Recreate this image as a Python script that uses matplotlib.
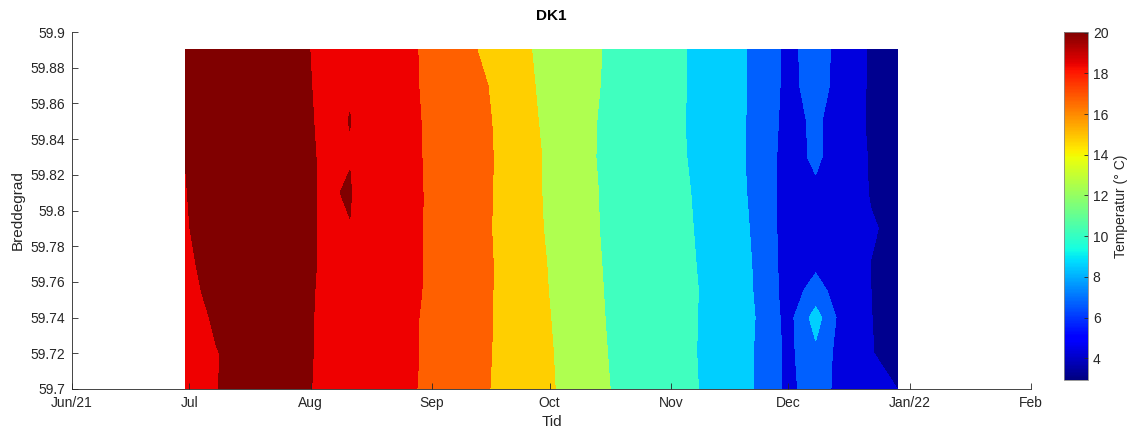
import numpy as np
import pandas as pd
import matplotlib
matplotlib.use('Agg')
import matplotlib.pyplot as plt
import matplotlib.dates as mdates
from matplotlib.colors import Normalize
from matplotlib.cm import ScalarMappable

plt.rcParams['font.family'] = ['Liberation Sans', 'DejaVu Sans']

# sample dates (columns) and latitudes (rows)
dates = ['2021-06-30', '2021-07-08', '2021-07-20', '2021-08-04', '2021-08-11', '2021-08-22',
         '2021-09-07', '2021-09-22', '2021-10-06', '2021-10-20', '2021-11-03', '2021-11-15',
         '2021-11-24', '2021-12-01', '2021-12-08', '2021-12-15', '2021-12-22', '2021-12-29']
lats = [59.89, 59.87, 59.85, 59.83, 59.81, 59.79, 59.77, 59.755, 59.74, 59.72, 59.70]

# temperature (deg C), one row per latitude
temp = [
    [20.3, 20.9, 20.8, 19.78, 19.5, 18.66, 17.0, 14.26, 13.44, 11.03, 10.15, 9.28, 7.14, 5.51, 6.8, 5.3, 3.80, 2.93],
    [20.3, 20.9, 20.8, 19.82, 19.97, 18.35, 17.5, 14.78, 12.72, 11.45, 10.15, 9.28, 7.14, 5.51, 6.7, 5.3, 3.75, 3.0],
    [20.3, 20.9, 20.8, 19.86, 20.01, 18.57, 17.3, 15.19, 12.48, 11.53, 10.12, 9.24, 7.07, 5.40, 6.3, 5.0, 3.75, 3.1],
    [20.02, 20.9, 20.8, 19.90, 19.97, 18.69, 17.2, 15.33, 12.68, 11.29, 10.15, 9.28, 6.96, 5.30, 6.3, 5.0, 3.87, 3.15],
    [19.95, 20.8, 20.8, 19.91, 20.05, 18.83, 17.1, 15.36, 12.65, 11.44, 10.3, 9.13, 7.24, 5.10, 5.7, 4.8, 3.93, 3.3],
    [19.87, 20.8, 20.8, 19.91, 19.98, 18.92, 17.0, 15.37, 12.79, 11.36, 10.35, 9.23, 7.40, 4.99, 5.2, 4.8, 4.10, 3.75],
    [19.70, 20.6, 20.8, 19.91, 19.6, 18.92, 17.0, 15.44, 13.01, 11.32, 10.4, 9.32, 7.54, 5.04, 5.65, 4.8, 3.99, 3.5],
    [19.6, 20.4, 20.8, 19.88, 19.5, 18.86, 17.0, 15.43, 13.13, 11.33, 10.45, 9.38, 7.59, 5.10, 6.7, 5.0, 4.01, 3.5],
    [19.2, 20.25, 20.8, 19.86, 19.5, 18.71, 17.0, 15.42, 13.28, 11.33, 10.45, 9.32, 7.74, 5.26, 8.87, 5.0, 4.03, 3.5],
    [19.3, 19.95, 20.8, 19.85, 19.5, 18.71, 17.0, 15.37, 13.45, 11.38, 10.45, 9.28, 7.65, 5.49, 7.53, 5.0, 4.1, 3.3],
    [19.3, 19.97, 20.8, 19.82, 19.5, 18.62, 17.0, 15.29, 13.56, 11.48, 10.45, 9.38, 7.63, 5.49, 7.0, 5.2, 4.4, 3.99],
]

levels = [2.9, 4, 6, 8, 10, 12, 14, 16, 18, 20, 21]
band_colors = ['#00008F', '#0000DF', '#0060FF', '#00CFFF', '#40FFBF',
               '#AFFF50', '#FFCF00', '#FF6000', '#EF0000', '#800000']

month_ticks = ['2021-06-01', '2021-07-01', '2021-08-01', '2021-09-01', '2021-10-01',
               '2021-11-01', '2021-12-01', '2022-01-01', '2022-02-01']
month_labels = ['Jun/21', 'Jul', 'Aug', 'Sep', 'Oct', 'Nov', 'Dec', 'Jan/22', 'Feb']
lat_ticks = [59.7, 59.72, 59.74, 59.76, 59.78, 59.8, 59.82, 59.84, 59.86, 59.88, 59.9]

fg = '#262626'
x = mdates.date2num(pd.to_datetime(dates))
xt = mdates.date2num(pd.to_datetime(month_ticks))

fig = plt.figure(figsize=(11.29, 4.28), dpi=100)
ax = fig.add_axes([72/1129, 1-389/428, (1031-72)/1129, (389-32)/428])
ax.contourf(x, lats, np.array(temp), levels=levels, colors=band_colors)

ax.set_xlim(xt[0], xt[-1])
ax.set_ylim(59.7, 59.9)
ax.set_xticks(xt)
ax.set_xticklabels(month_labels)
ax.set_yticks(lat_ticks)
ax.set_yticklabels(['%g' % v for v in lat_ticks])
ax.tick_params(direction='in', length=4, width=0.6, color=fg, labelcolor=fg, labelsize=10, pad=5)
for s in ['top', 'right']:
    ax.spines[s].set_visible(False)
for s in ['left', 'bottom']:
    ax.spines[s].set_color(fg)
    ax.spines[s].set_linewidth(0.6)
ax.set_xlabel('Tid', fontsize=11, color=fg)
ax.set_ylabel('Breddegrad', fontsize=11, color=fg)
ax.set_title('DK1', fontsize=11, fontweight='bold', color='black', pad=9)

cax = fig.add_axes([1064/1129, 1-380/428, 24/1129, (380-31.7)/428])
sm = ScalarMappable(norm=Normalize(2.93, 20.05), cmap='jet')
cb = fig.colorbar(sm, cax=cax, ticks=range(4, 21, 2))
cb.ax.tick_params(direction='in', length=3, width=0.6, color=fg, labelcolor=fg, labelsize=10)
cb.outline.set_edgecolor('#888888')
cb.outline.set_linewidth(0.6)
cb.set_label('Temperatur (° C)', fontsize=10, color=fg)

fig.savefig('out.png', dpi=100)
